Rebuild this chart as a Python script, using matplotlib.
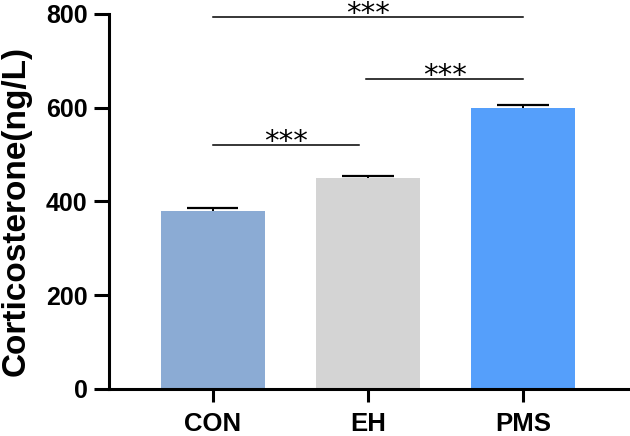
import numpy as np
import matplotlib
matplotlib.use('Agg')
import matplotlib.pyplot as plt

# --- donnees ---
groupes = ['CON', 'EH', 'PMS']
moyennes = [380, 450, 599]
erreurs = [6, 4, 6]
couleurs = ['#8BABD4', '#D4D4D4', '#559FFB']

# comparaisons : (debut, fin, hauteur)
comparaisons = [(0, 0.94, 520), (0.99, 2.0, 661), (0, 2.0, 793)]
etoiles = ['***', '***', '***']

plt.rcParams['font.family'] = ['Liberation Sans', 'DejaVu Sans']

fig = plt.figure(figsize=(6.3, 4.36), dpi=100)
ax = fig.add_axes([0.173, 0.108, 0.827, 0.86])

x = np.arange(len(groupes))
ax.bar(x, moyennes, width=0.67, color=couleurs, zorder=2)

# barres d'erreur (seulement vers le haut)
hauts = np.array(moyennes) + np.array(erreurs)
ax.vlines(x, moyennes, hauts, color='black', lw=1.4, zorder=3)
ax.hlines(hauts, x - 0.165, x + 0.165, color='black', lw=1.6, zorder=3)

for (x1, x2, h), s in zip(comparaisons, etoiles):
    ax.plot([x1, x2], [h, h], color='black', lw=1.1, clip_on=False)
    ax.annotate(s, xy=((x1 + x2) / 2, h), xytext=(0, -3.5),
                textcoords='offset points', ha='center', va='baseline',
                fontsize=21, family='DejaVu Sans', annotation_clip=False)

ax.set_xlim(-0.67, 2.69)
ax.set_ylim(0, 800)
ax.set_yticks([0, 200, 400, 600, 800])
ax.set_xticks(x)
ax.set_xticklabels(groupes)

for lab in ax.get_yticklabels():
    lab.set_fontweight('bold')
    lab.set_fontsize(18)
for lab in ax.get_xticklabels():
    lab.set_fontweight('bold')
    lab.set_fontsize(18.5)

ax.set_ylabel('Corticosterone(ng/L)', fontsize=24, fontweight='bold')
ax.yaxis.set_label_coords(-0.148, 0.475)

ax.spines['top'].set_visible(False)
ax.spines['right'].set_visible(False)
ax.spines['left'].set_linewidth(2.2)
ax.spines['bottom'].set_linewidth(2.2)
ax.tick_params(axis='y', length=10.5, width=2.2, pad=5)
ax.tick_params(axis='x', length=9.5, width=2.2, pad=7)

fig.savefig('out.png', dpi=100)
